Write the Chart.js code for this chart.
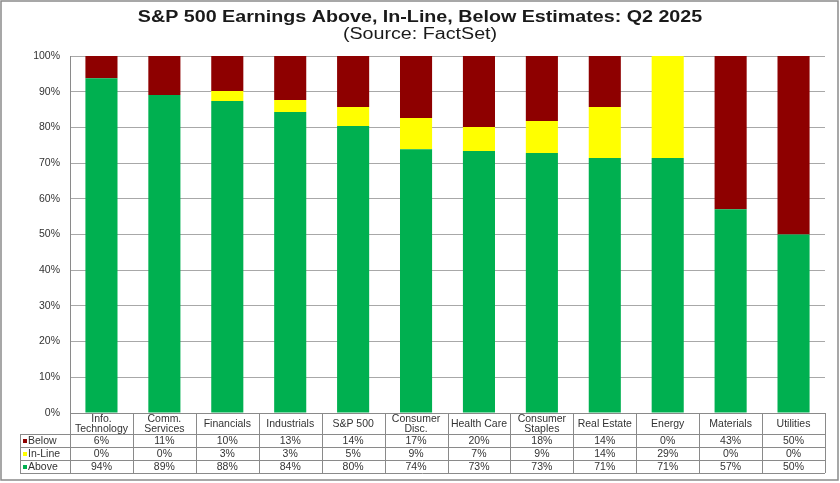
<!DOCTYPE html>
<html><head><meta charset="utf-8">
<script src="https://cdn.jsdelivr.net/npm/chart.js@4"></script>
<style>html,body{margin:0;padding:0;background:#fff}#wrap{width:840px;height:483px}</style>
</head><body><div id="wrap"><canvas id="c" width="840" height="483"></canvas></div>
<script>
const categories = [['Info.','Technology'],['Comm.','Services'],'Financials','Industrials','S&P 500',['Consumer','Disc.'],'Health Care',['Consumer','Staples'],'Real Estate','Energy','Materials','Utilities'];
const aboveValues  = [93.8, 89.1, 87.4, 84.3, 80.4, 73.9, 73.4, 72.8, 71.4, 71.4, 57.1, 50.0];
const inlineValues = [0, 0, 2.8, 3.4, 5.3, 8.7, 6.7, 9.0, 14.3, 28.6, 0, 0];
const belowValues  = [6.2, 10.9, 9.8, 12.3, 14.3, 17.4, 19.9, 18.2, 14.3, 0, 42.9, 50.0];
const belowLabels  = ['6%','11%','10%','13%','14%','17%','20%','18%','14%','0%','43%','50%'];
const inlineLabels = ['0%','0%','3%','3%','5%','9%','7%','9%','14%','29%','0%','0%'];
const aboveLabels  = ['94%','89%','88%','84%','80%','74%','73%','73%','71%','71%','57%','50%'];
const yTicks = [0,10,20,30,40,50,60,70,80,90,100];
const titleText = 'S&P 500 Earnings Above, In-Line, Below Estimates: Q2 2025';
const subtitleText = '(Source: FactSet)';

const C_ABOVE = '#00B050', C_INLINE = '#FFFF00', C_BELOW = '#8E0000';
const FONT = 'Liberation Sans, Arial, sans-serif';

const titlePlugin = {
  id: 'stretchedTitle',
  afterDraw(chart) {
    const ctx = chart.ctx, cx = chart.width / 2;
    ctx.save();
    ctx.fillStyle = '#1a1a1a';
    ctx.textAlign = 'center'; ctx.textBaseline = 'middle';
    ctx.translate(cx, 0); ctx.scale(1.23, 1);
    ctx.font = 'bold 16px ' + FONT;
    ctx.fillText(titleText, 0, 18);
    ctx.font = '16px ' + FONT;
    ctx.fillText(subtitleText, 0, 35);
    ctx.restore();
  }
};

const tablePlugin = {
  id: 'tablePlugin',
  afterDraw(chart) {
    const ctx = chart.ctx, x = chart.scales.x, area = chart.chartArea;
    const n = categories.length;
    const colW = (area.right - area.left) / n;
    const top = area.bottom, hdrB = top + 21, rowH = 13;
    const rows = [
      {name:'Below', color:C_BELOW, labels:belowLabels},
      {name:'In-Line', color:C_INLINE, labels:inlineLabels},
      {name:'Above', color:C_ABOVE, labels:aboveLabels}
    ];
    const leftX = 20, bottom = hdrB + rowH*3;
    ctx.save();
    ctx.strokeStyle = '#8a8a8a'; ctx.lineWidth = 1;
    ctx.beginPath();
    ctx.moveTo(area.left, top+0.5); ctx.lineTo(area.right, top+0.5);
    for (let r = 0; r <= 3; r++) {
      const yy = Math.round(hdrB + r*rowH) + 0.5;
      ctx.moveTo(leftX, yy); ctx.lineTo(area.right, yy);
    }
    ctx.moveTo(leftX+0.5, hdrB); ctx.lineTo(leftX+0.5, bottom);
    for (let i = 0; i <= n; i++) {
      const xx = Math.round(area.left + i*colW) + 0.5;
      ctx.moveTo(xx, top); ctx.lineTo(xx, bottom);
    }
    ctx.stroke();
    ctx.fillStyle = '#333'; ctx.font = '10.5px ' + FONT;
    ctx.textAlign = 'center'; ctx.textBaseline = 'middle';
    categories.forEach((c, i) => {
      const cx = x.getPixelForValue(i);
      if (Array.isArray(c)) {
        ctx.fillText(c[0], cx, top + 6.5);
        ctx.fillText(c[1], cx, top + 16);
      } else {
        ctx.fillText(c, cx, top + 11);
      }
    });
    rows.forEach((r, ri) => {
      const cy = hdrB + ri*rowH + rowH/2 + 0.5;
      ctx.fillStyle = r.color;
      ctx.fillRect(leftX + 3, cy - 2, 4, 4);
      ctx.fillStyle = '#333'; ctx.textAlign = 'left';
      ctx.fillText(r.name, leftX + 8, cy);
      ctx.textAlign = 'center';
      r.labels.forEach((t, i) => ctx.fillText(t, x.getPixelForValue(i), cy));
    });
    ctx.strokeStyle = '#8a8a8a'; ctx.lineWidth = 1.5;
    ctx.strokeRect(1, 1, 837, 479);
    ctx.restore();
  }
};

new Chart(document.getElementById('c'), {
  type: 'bar',
  data: {
    labels: categories,
    datasets: [
      {label:'Above', data:aboveValues, backgroundColor:C_ABOVE},
      {label:'In-Line', data:inlineValues, backgroundColor:C_INLINE},
      {label:'Below', data:belowValues, backgroundColor:C_BELOW}
    ]
  },
  options: {
    responsive: false, animation: false,
    layout: {padding: {left: 0, right: 15, top: 56, bottom: 0}},
    datasets: {bar: {barPercentage: 0.51, categoryPercentage: 1.0}},
    plugins: {
      legend: {display: false},
      tooltip: {enabled: false},
      title: {display: false},
      subtitle: {display: false}
    },
    scales: {
      x: {stacked: true, ticks: {display: false}, grid: {display: false, drawTicks: false}, border: {display: false},
        afterFit(s) { s.height = 70; }},
      y: {stacked: true, min: 0, max: 100,
        afterBuildTicks(s) { s.ticks = yTicks.map(v => ({value: v})); },
        afterFit(s) { s.width = 70; },
        ticks: {callback: v => v + '%', color: '#333', font: {family: FONT, size: 10.5}, padding: 10},
        grid: {color: '#a8a8a8', drawTicks: false},
        border: {display: true, color: '#8a8a8a'}}
    }
  },
  plugins: [tablePlugin, titlePlugin]
});
</script></body></html>
